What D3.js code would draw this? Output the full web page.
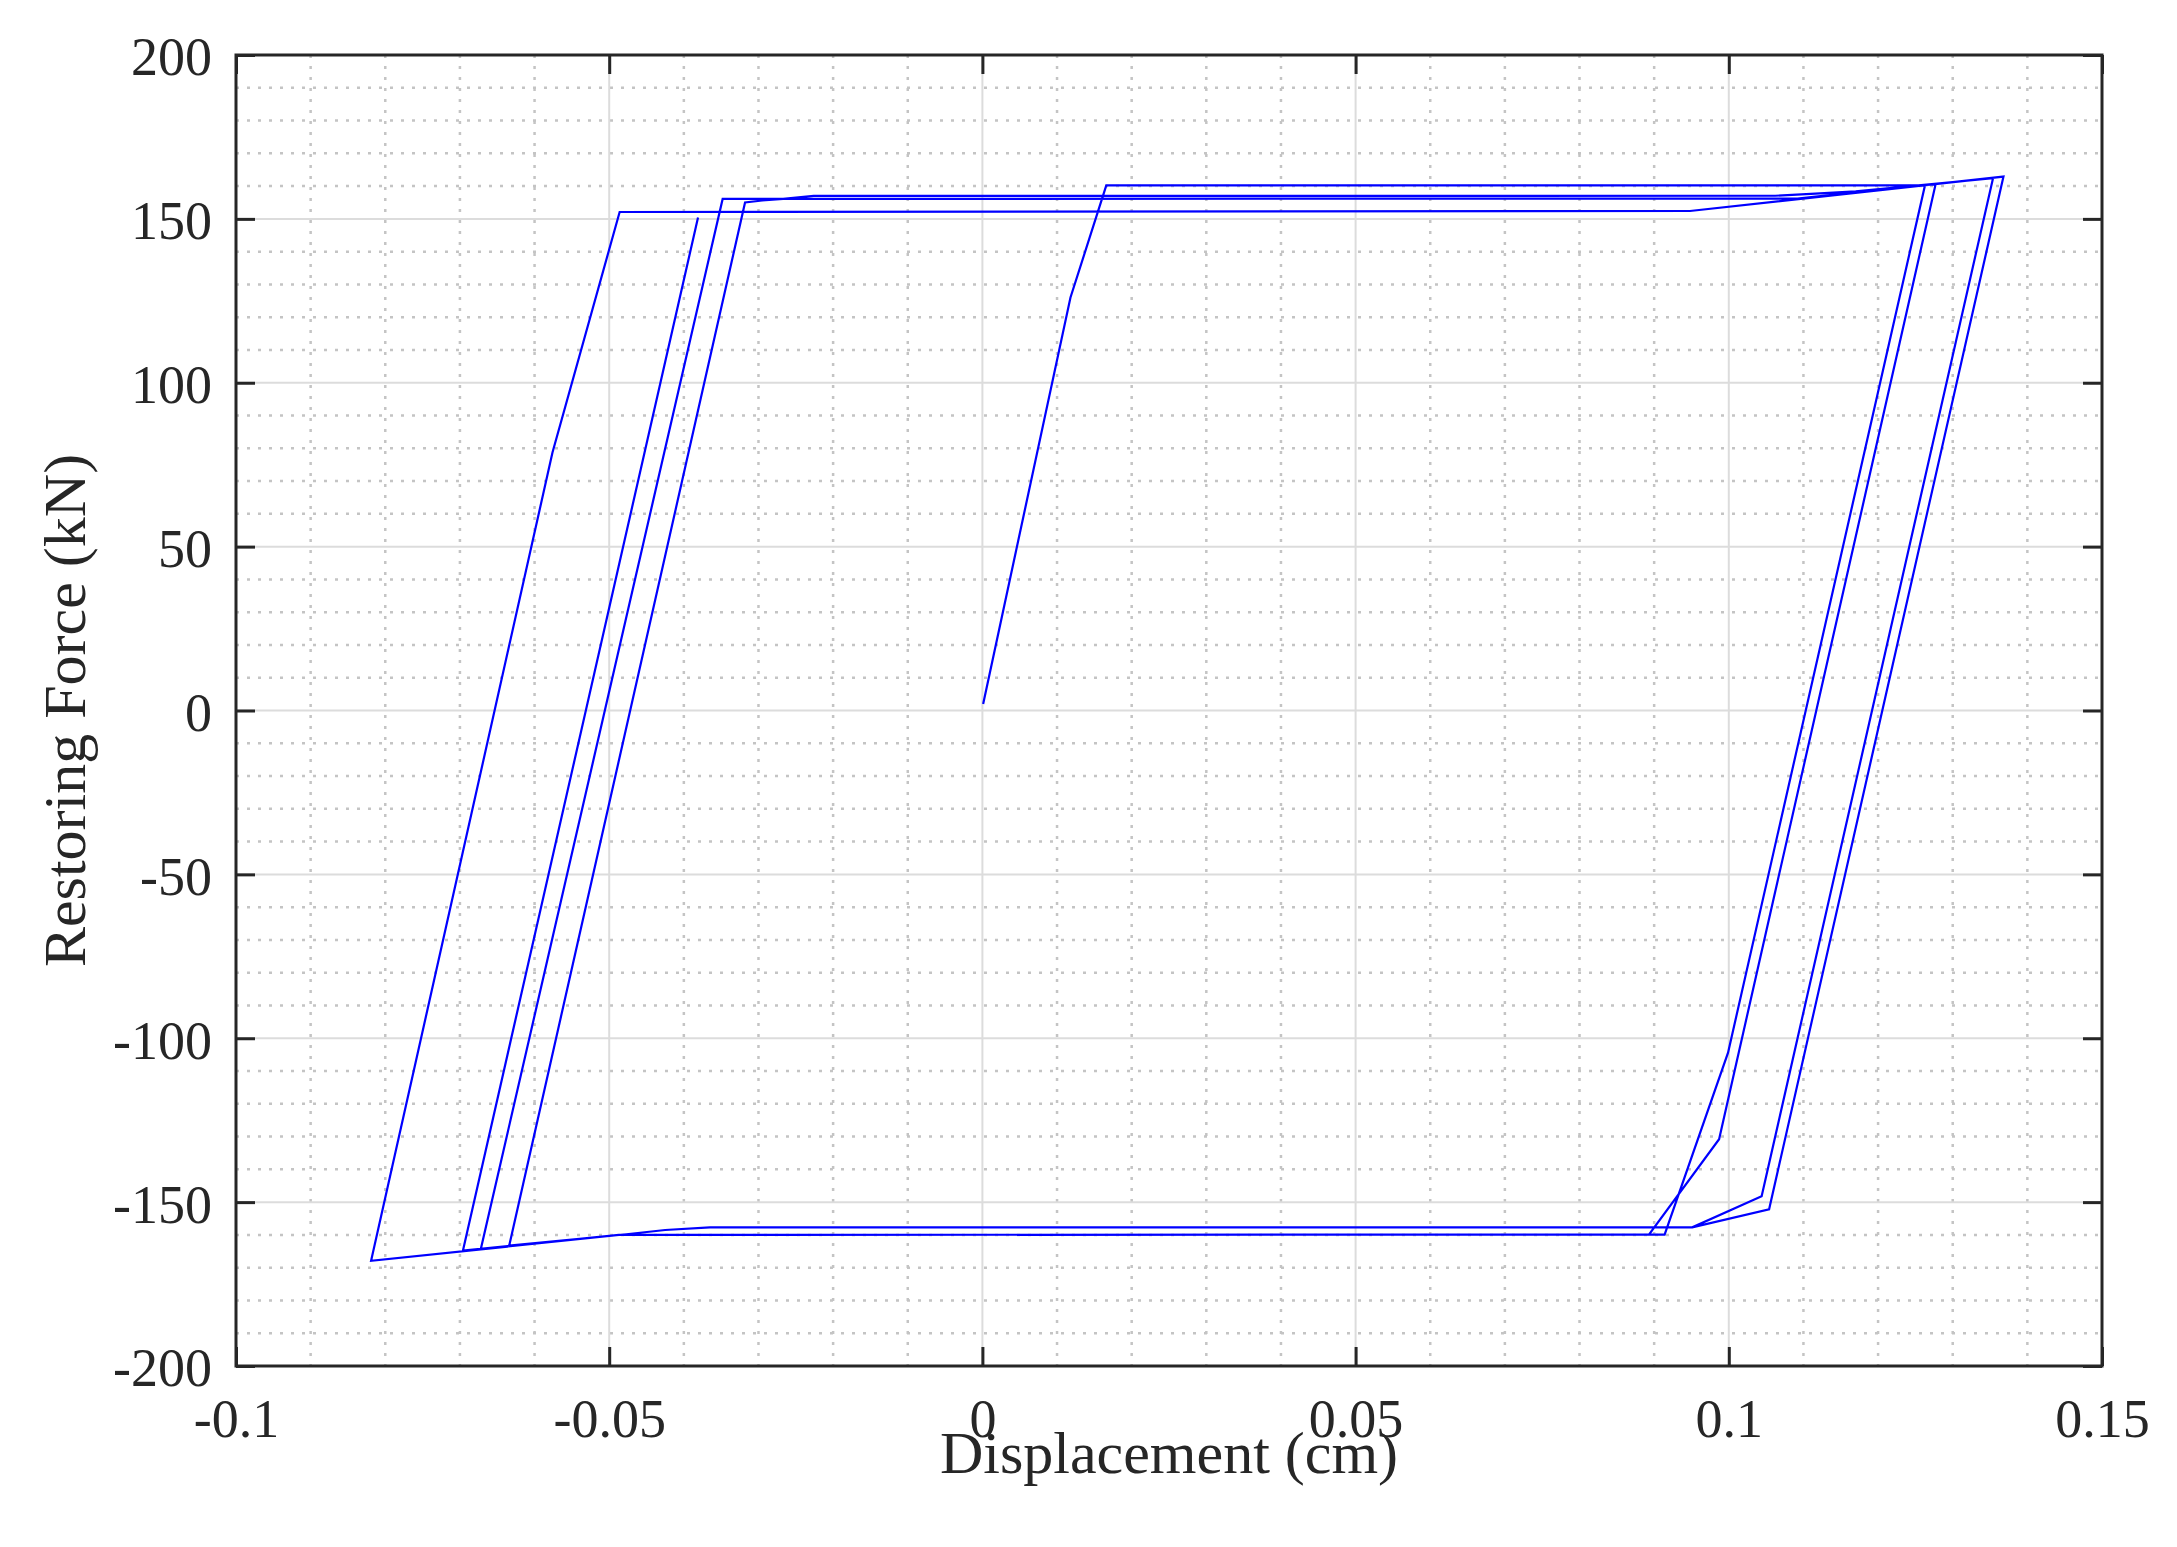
<!DOCTYPE html>
<html>
<head>
<meta charset="utf-8">
<script src="https://cdn.jsdelivr.net/npm/d3@7"></script>
<style>
  body { margin: 0; background: #fff; }
  text { font-family: "Liberation Serif", "Times New Roman", serif; fill: #262626; }
</style>
</head>
<body>
<div id="chart"></div>
<script>
var W = 2177, H = 1547;

// hysteresis path, in drawing order
var dispCm = [
    0.0001, 0.0118, 0.0166, 0.1258, 0.1263,
    0.0999, 0.0914, -0.0487, -0.0819,
    -0.0576, -0.0486, 0.0948, 0.1368,
    0.1054, 0.0951, -0.0365, -0.0425, -0.0477, -0.0634,
    -0.0318, -0.0295, -0.0267, -0.0226, 0.1062, 0.1110, 0.1170, 0.1354,
    0.1044, 0.0951, -0.0365, -0.0425, -0.0477, -0.0672,
    -0.0348, 0.1092, 0.1258, 0.1277,
    0.0987, 0.0893, -0.0487, -0.0696,
    -0.0381
];
var forceKN = [
    2, 126, 160.2, 160.2, 160.4,
    -104.4, -159.9, -160.0, -167.9,
    78.7, 152.1, 152.4, 162.9,
    -152.2, -157.7, -157.7, -158.5, -159.8, -163.3,
    155.0, 155.6, 156.1, 157.0, 157.05, 157.6, 158.4, 162.4,
    -148.2, -157.7, -157.7, -158.5, -159.8, -164.3,
    156.1, 156.2, 160.3, 160.5,
    -130.8, -159.9, -160.0, -164.8,
    150.4
];

// axis ticks
var xTicks = [-0.1, -0.05, 0, 0.05, 0.1, 0.15],
    xTickLabels = ["-0.1", "-0.05", "0", "0.05", "0.1", "0.15"];
var yTicks = [-200, -150, -100, -50, 0, 50, 100, 150, 200],
    yTickLabels = ["-200", "-150", "-100", "-50", "0", "50", "100", "150", "200"];

var margin = {top: 55, right: 75, bottom: 181, left: 236},
    w = W - margin.left - margin.right,
    h = H - margin.top - margin.bottom;

var svg = d3.select("#chart").append("svg")
    .attr("width", W)
    .attr("height", H);

svg.append("rect")
    .attr("width", W)
    .attr("height", H)
    .attr("fill", "#fff");

var g = svg.append("g")
    .attr("transform", "translate(" + margin.left + "," + margin.top + ")");

var x = d3.scaleLinear().domain([-0.1, 0.15]).range([0, w]),
    y = d3.scaleLinear().domain([-200, 200]).range([h, 0]);

// minor grid (dotted), skipping the major positions
function isMajor(v, list) {
    return list.some(function(t) { return Math.abs(t - v) < 1e-9; });
}
var xMinor = x.ticks(25).filter(function(v) { return !isMajor(v, xTicks); }),
    yMinor = y.ticks(40).filter(function(v) { return !isMajor(v, yTicks); });

g.append("g").selectAll("line")
    .data(xMinor)
    .enter().append("line")
    .attr("x1", function(d) { return x(d); })
    .attr("x2", function(d) { return x(d); })
    .attr("y1", 0)
    .attr("y2", h)
    .attr("stroke", "#c4c4c4")
    .attr("stroke-width", 2.5)
    .attr("stroke-dasharray", "3,8");

g.append("g").selectAll("line")
    .data(yMinor)
    .enter().append("line")
    .attr("x1", 0)
    .attr("x2", w)
    .attr("y1", function(d) { return y(d); })
    .attr("y2", function(d) { return y(d); })
    .attr("stroke", "#c4c4c4")
    .attr("stroke-width", 2.5)
    .attr("stroke-dasharray", "3,8");

// major grid (solid light)
g.append("g").selectAll("line")
    .data(xTicks.slice(1, -1))
    .enter().append("line")
    .attr("x1", function(d) { return x(d); })
    .attr("x2", function(d) { return x(d); })
    .attr("y1", 0)
    .attr("y2", h)
    .attr("stroke", "#dcdcdc")
    .attr("stroke-width", 2);

g.append("g").selectAll("line")
    .data(yTicks.slice(1, -1))
    .enter().append("line")
    .attr("x1", 0)
    .attr("x2", w)
    .attr("y1", function(d) { return y(d); })
    .attr("y2", function(d) { return y(d); })
    .attr("stroke", "#dcdcdc")
    .attr("stroke-width", 2);

// the curve
var pts = dispCm.map(function(d, i) { return [d, forceKN[i]]; });
var line = d3.line()
    .x(function(d) { return x(d[0]); })
    .y(function(d) { return y(d[1]); });

g.append("path")
    .datum(pts)
    .attr("d", line)
    .attr("fill", "none")
    .attr("stroke", "#0000ff")
    .attr("stroke-width", 2.2)
    .attr("stroke-linejoin", "miter");

// axes, ticks pointing inwards
var tickLen = 19;

var xAxis = g.append("g")
    .attr("transform", "translate(0," + h + ")")
    .call(d3.axisBottom(x)
        .tickValues(xTicks)
        .tickFormat(function(d, i) { return xTickLabels[i]; })
        .tickSize(-tickLen)
        .tickSizeOuter(0)
        .tickPadding(33));

var yAxis = g.append("g")
    .call(d3.axisLeft(y)
        .tickValues(yTicks)
        .tickFormat(function(d, i) { return yTickLabels[i]; })
        .tickSize(-tickLen)
        .tickSizeOuter(0)
        .tickPadding(24));

var topAxis = g.append("g")
    .call(d3.axisTop(x)
        .tickValues(xTicks)
        .tickFormat("")
        .tickSize(-tickLen)
        .tickSizeOuter(0));

var rightAxis = g.append("g")
    .attr("transform", "translate(" + w + ",0)")
    .call(d3.axisRight(y)
        .tickValues(yTicks)
        .tickFormat("")
        .tickSize(-tickLen)
        .tickSizeOuter(0));

[xAxis, yAxis, topAxis, rightAxis].forEach(function(a) {
    a.select(".domain").remove();
    a.selectAll(".tick line")
        .attr("stroke", "#262626")
        .attr("stroke-width", 3);
    a.selectAll(".tick text")
        .style("font-family", "'Liberation Serif', 'Times New Roman', serif")
        .style("font-size", "54px")
        .attr("fill", "#262626");
});

yAxis.selectAll(".tick text").attr("dy", "0.37em");

// box
g.append("rect")
    .attr("width", w)
    .attr("height", h)
    .attr("fill", "none")
    .attr("stroke", "#262626")
    .attr("stroke-width", 3);

// axis titles
svg.append("text")
    .attr("x", margin.left + w / 2)
    .attr("y", 1473)
    .attr("text-anchor", "middle")
    .style("font-size", "60px")
    .text("Displacement (cm)");

svg.append("text")
    .attr("transform", "translate(85," + (margin.top + h / 2) + ") rotate(-90)")
    .attr("text-anchor", "middle")
    .style("font-size", "60px")
    .text("Restoring Force (kN)");
</script>
</body>
</html>
